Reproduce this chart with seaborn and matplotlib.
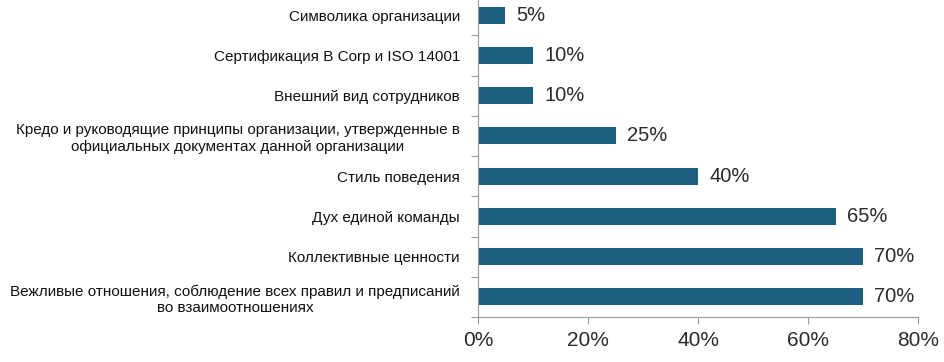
import matplotlib
matplotlib.use("Agg")
import matplotlib.pyplot as plt
import seaborn as sns
import pandas as pd
from matplotlib.ticker import FixedLocator

categories = [
    "Символика организации",
    "Сертификация B Corp и ISO 14001",
    "Внешний вид сотрудников",
    "Кредо и руководящие принципы организации, утвержденные в\nофициальных документах данной организации",
    "Стиль поведения",
    "Дух единой команды",
    "Коллективные ценности",
    "Вежливые отношения, соблюдение всех правил и предписаний\nво взаимоотношениях",
]
values = [5, 10, 10, 25, 40, 65, 70, 70]
xticks = [0, 20, 40, 60, 80]
xtick_labels = ["0%", "20%", "40%", "60%", "80%"]

sns.set_theme(style="white")
plt.rcParams["font.family"] = ["Liberation Sans", "DejaVu Sans"]

df = pd.DataFrame({"cat": categories, "val": values})

W, H = 945, 362
fig = plt.figure(figsize=(W / 100, H / 100), dpi=100)
left, right, bottom, top = 478, 918, 317, -5
ax = fig.add_axes([left / W, (H - bottom) / H, (right - left) / W, (bottom - top) / H])

bar_color = "#1C5F80"
sns.barplot(data=df, y="cat", x="val", orient="h", color=bar_color, width=0.42,
            saturation=1, linewidth=0, ax=ax)

ax.set_xlim(0, 80)
ax.set_ylim(7.5, -0.5)
ax.set_xlabel("")
ax.set_ylabel("")
ax.set_xticks(xticks)
ax.set_xticklabels(xtick_labels, fontsize=15, color="#2A2A2A")

ax.yaxis.set_major_locator(FixedLocator(range(len(categories))))
ax.set_yticklabels(categories, fontsize=11, color="#111111", multialignment="center")
ax.tick_params(axis="y", which="major", length=0, pad=13)
ax.yaxis.set_minor_locator(FixedLocator([i + 0.5 for i in range(len(categories))]))
ax.tick_params(axis="y", which="minor", length=5, width=0.8, color="#9A9A9A", left=True)
ax.tick_params(axis="x", which="major", length=5, width=0.8, color="#9A9A9A", bottom=True, pad=5)

for s in ["top", "right"]:
    ax.spines[s].set_visible(False)
for s in ["left", "bottom"]:
    ax.spines[s].set_color("#9A9A9A")
    ax.spines[s].set_linewidth(0.8)

for i, v in enumerate(values):
    ax.annotate(f"{v}%", xy=(v, i), xytext=(8, 0), textcoords="offset points",
                va="center", ha="left", fontsize=14.5, color="#2A2A2A")

fig.savefig("out.png", dpi=100)
